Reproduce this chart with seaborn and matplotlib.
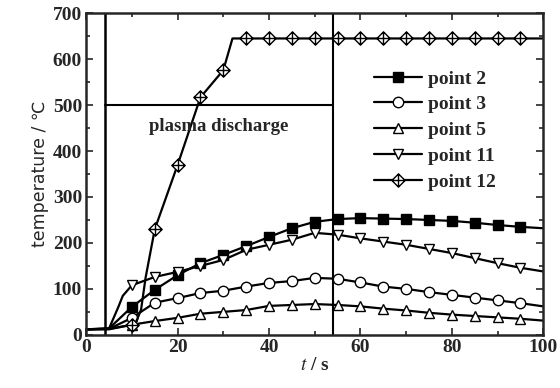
import numpy as np
import pandas as pd
import matplotlib
matplotlib.use("Agg")
import matplotlib.pyplot as plt
from matplotlib.path import Path
import seaborn as sns

# ---------------- data ----------------
t_std = [0, 5, 10, 15, 20, 25, 30, 35, 40, 45, 50, 55, 60, 65, 70, 75, 80, 85, 90, 95, 100]
p2 = [12, 14, 61, 98, 130, 156, 174, 193, 213, 232, 246, 252, 254, 253, 252, 250, 248, 244, 239, 235, 232]
p3 = [12, 13, 37, 70, 80, 91, 96, 105, 113, 117, 124, 122, 114, 105, 100, 93, 87, 81, 75, 69, 62]
p5 = [12, 12, 22, 30, 37, 46, 50, 54, 63, 65, 67, 65, 62, 57, 53, 48, 44, 41, 38, 35, 31]
t_11 = [0, 5, 7, 8, 10, 15, 20, 25, 30, 35, 40, 45, 50, 55, 60, 65, 70, 75, 80, 85, 90, 95, 100]
p11 = [12, 14, 60, 85, 108, 126, 137, 150, 163, 185, 196, 207, 222, 218, 210, 203, 196, 187, 178, 167, 156, 146, 138]
t_12 = [0, 5, 10, 11, 12, 13, 15, 20, 25, 30, 32, 35, 40, 45, 50, 55, 60, 65, 70, 75, 80, 85, 90, 95, 100]
p12 = [12, 13, 22, 30, 55, 125, 230, 370, 517, 576, 645, 645, 645, 645, 645, 645, 645, 645, 645, 645, 645, 645, 645, 645, 645]
labels = ["point 2", "point 3", "point 5", "point 11", "point 12"]
discharge_start, discharge_end, discharge_level = 4, 54, 500
annot = "plasma discharge"

# ---------------- style ----------------
sns.set_theme(style="ticks")
plt.rcParams["font.family"] = ["Liberation Serif", "DejaVu Serif"]
plt.rcParams["mathtext.fontset"] = "stix"

fig = plt.figure(figsize=(5.6, 3.88), dpi=100)
ax = fig.add_axes([0.154, 0.137, 0.816, 0.829])

# diamond with cross marker
dv = [(0, 1), (1, 0), (0, -1), (-1, 0), (0, 1), (0, 1), (0, -1), (-1, 0), (1, 0)]
dc = [Path.MOVETO, Path.LINETO, Path.LINETO, Path.LINETO, Path.CLOSEPOLY,
      Path.MOVETO, Path.LINETO, Path.MOVETO, Path.LINETO]
diamond_cross = Path(dv, dc)

series = [
    (t_std, p2, "s", "black"),
    (t_std, p3, "o", "white"),
    (t_std, p5, "^", "white"),
    (t_11, p11, "v", "white"),
    (t_12, p12, diamond_cross, "white"),
]
for (tt, yy, mk, fc), lab in zip(series, labels):
    df = pd.DataFrame({"t": tt, "T": yy})
    marks = [i for i, v in enumerate(tt) if v % 5 == 0 and 10 <= v <= 95]
    sns.lineplot(data=df, x="t", y="T", ax=ax, color="black", lw=1.6,
                 marker=mk, markersize=7.5 if mk != diamond_cross else 9.5,
                 markerfacecolor=fc, markeredgecolor="black", markeredgewidth=1.0,
                 markevery=marks, label=lab)

# discharge period lines
ax.axvline(discharge_start, color="black", lw=1.8)
ax.axvline(discharge_end, color="black", lw=1.5)
ax.plot([discharge_start, discharge_end], [discharge_level, discharge_level], color="black", lw=1.5)
ax.text((discharge_start + discharge_end) / 2, discharge_level - 47, annot,
        ha="center", va="center", fontsize=13.5, fontweight="bold")

ax.set_xlim(0, 100)
ax.set_ylim(0, 700)
ax.set_xticks(range(0, 101, 20))
ax.set_yticks(range(0, 701, 100))
ax.set_xticks(range(0, 101, 10), minor=True)
ax.set_yticks(range(0, 701, 50), minor=True)
ax.tick_params(which="both", direction="in", top=True, right=True, width=1.2)
ax.tick_params(which="major", length=5, labelsize=14, pad=3)
ax.tick_params(which="minor", length=3)
for lab in ax.get_xticklabels() + ax.get_yticklabels():
    lab.set_fontweight("bold")
for s in ax.spines.values():
    s.set_linewidth(1.8)

ax.set_xlabel(r"$t$ / s", fontsize=14, fontweight="bold", labelpad=1)
ax.set_ylabel("temperature / ℃", fontsize=12.5, family=["DejaVu Sans"], labelpad=3)

leg = ax.legend(loc="upper right", bbox_to_anchor=(0.922, 0.86), frameon=False,
                fontsize=14, handlelength=2.5, labelspacing=0.42, handletextpad=0.3,
                borderaxespad=0.2)
for txt in leg.get_texts():
    txt.set_fontweight("bold")

fig.savefig("out.png", dpi=100)
